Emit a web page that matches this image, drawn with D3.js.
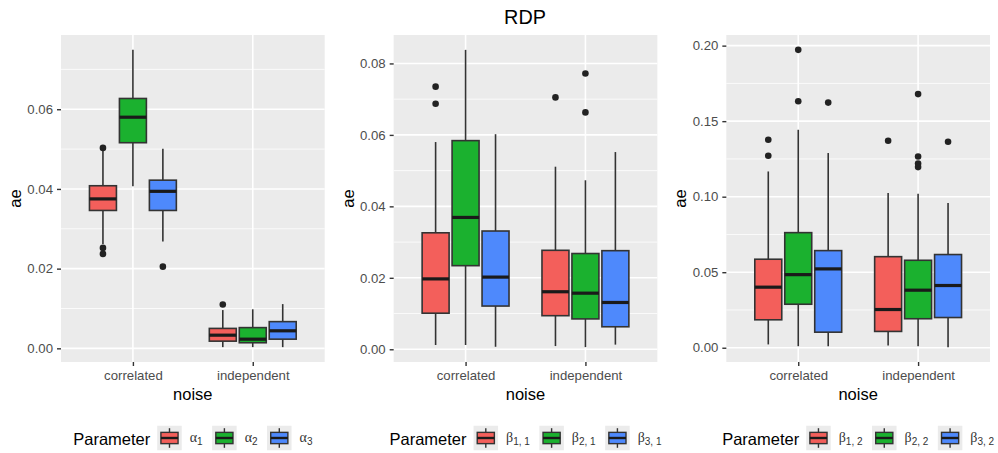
<!DOCTYPE html>
<html><head><meta charset="utf-8">
<script src="https://cdn.jsdelivr.net/npm/d3@7"></script>
<style>
body{margin:0;background:#fff}
text{font-family:"Liberation Sans",Arial,Helvetica,sans-serif}
</style>
</head><body><svg id="c" width="998" height="453"></svg>
<script>
// ---------- data ----------
const noise = ["correlated", "independent"];
const seriesColors = ["#F35F5B", "#1BB12F", "#4E89FC"];
const chartTitle = "RDP";
const xTitle = "noise";
const yTitle = "ae";
const legendTitle = "Parameter";

const alphaLabels = [["α", "1"], ["α", "2"], ["α", "3"]];
const beta1Labels = [["β", "1, 1"], ["β", "2, 1"], ["β", "3, 1"]];
const beta2Labels = [["β", "1, 2"], ["β", "2, 2"], ["β", "3, 2"]];

// [noise index, parameter index, lower whisker, Q1, median, Q3, upper whisker]
const alphaBoxes = [
  [0, 0, 0.0262, 0.0346, 0.0375, 0.0408, 0.0497],
  [0, 1, 0.0407, 0.0516, 0.0580, 0.0627, 0.0749],
  [0, 2, 0.0268, 0.0346, 0.0394, 0.0422, 0.0501],
  [1, 0, 0.0003, 0.0018, 0.0033, 0.0050, 0.0096],
  [1, 1, 0.0003, 0.0014, 0.0023, 0.0052, 0.0098],
  [1, 2, 0.0003, 0.0023, 0.0044, 0.0067, 0.0111]
];
// [noise index, parameter index, value]
const alphaOutliers = [
  [0, 0, 0.0503], [0, 0, 0.0252], [0, 0, 0.0237],
  [0, 2, 0.0205],
  [1, 0, 0.0110]
];
const alphaTicks = [0, 0.02, 0.04, 0.06];

const beta1Boxes = [
  [0, 0, 0.0012, 0.0101, 0.0197, 0.0326, 0.0580],
  [0, 1, 0.0012, 0.0234, 0.0369, 0.0584, 0.0838],
  [0, 2, 0.0007, 0.0121, 0.0202, 0.0331, 0.0602],
  [1, 0, 0.0009, 0.0094, 0.0161, 0.0277, 0.0511],
  [1, 1, 0.0006, 0.0085, 0.0157, 0.0268, 0.0473],
  [1, 2, 0.0013, 0.0063, 0.0131, 0.0276, 0.0552]
];
const beta1Outliers = [
  [0, 0, 0.0735], [0, 0, 0.0687],
  [1, 0, 0.0705],
  [1, 1, 0.0772], [1, 1, 0.0663]
];
const beta1Ticks = [0, 0.02, 0.04, 0.06, 0.08];

const beta2Boxes = [
  [0, 0, 0.0022, 0.0185, 0.0401, 0.0586, 0.1167],
  [0, 1, 0.0010, 0.0288, 0.0484, 0.0762, 0.1443],
  [0, 2, 0.0010, 0.0103, 0.0522, 0.0643, 0.1289],
  [1, 0, 0.0015, 0.0108, 0.0253, 0.0603, 0.1024],
  [1, 1, 0.0010, 0.0192, 0.0381, 0.0579, 0.1020],
  [1, 2, 0.0004, 0.0200, 0.0412, 0.0617, 0.0958]
];
const beta2Outliers = [
  [0, 0, 0.1377], [0, 0, 0.1271],
  [0, 1, 0.1972], [0, 1, 0.1632],
  [0, 2, 0.1623],
  [1, 0, 0.1370],
  [1, 1, 0.1679], [1, 1, 0.1266], [1, 1, 0.1220], [1, 1, 0.1196],
  [1, 2, 0.1364]
];
const beta2Ticks = [0, 0.05, 0.10, 0.15, 0.20];

// ---------- drawing ----------
const W = 998, H = 453;
const svg = d3.select("#c");
const plotW = W / 3;
const panelTop = 35, panelBottom = 362;
const lineCol = "#333333";

svg.append("text").attr("x", 525).attr("y", 24).attr("text-anchor", "middle")
  .attr("font-size", 19.8).attr("fill", "#000").text(chartTitle);

function drawPlot(i, boxes, outliers, ticks, labels) {
  const ox = i * plotW;
  const left = ox + 61, right = ox + plotW - 8;
  const g = svg.append("g");

  const allVals = boxes.flatMap(b => b.slice(2)).concat(outliers.map(o => o[2]));
  const [mn, mx] = d3.extent(allVals);
  const pad = (mx - mn) * 0.05;
  const y = d3.scaleLinear().domain([mn - pad, mx + pad]).range([panelBottom, panelTop]);
  const x = d3.scalePoint().domain(noise).range([left, right]).padding(0.6);
  const step = x.step();

  // panel background
  g.append("rect").attr("x", left).attr("y", panelTop).attr("width", right - left)
    .attr("height", panelBottom - panelTop).attr("fill", "#EBEBEB");

  // minor grid
  const tstep = ticks[1] - ticks[0];
  const dom = y.domain();
  const minor = [];
  for (let k = -1; k < ticks.length; k++) {
    const v = ticks[0] + (k + 0.5) * tstep;
    if (v >= dom[0] && v <= dom[1]) minor.push(v);
  }
  g.selectAll(".minor").data(minor).enter().append("line")
    .attr("x1", left).attr("x2", right).attr("y1", d => y(d)).attr("y2", d => y(d))
    .attr("stroke", "#fff").attr("stroke-width", 0.8);
  g.selectAll(".major").data(ticks).enter().append("line")
    .attr("x1", left).attr("x2", right).attr("y1", d => y(d)).attr("y2", d => y(d))
    .attr("stroke", "#fff").attr("stroke-width", 1.6);
  g.selectAll(".vmajor").data(noise).enter().append("line")
    .attr("x1", d => x(d)).attr("x2", d => x(d)).attr("y1", panelTop).attr("y2", panelBottom)
    .attr("stroke", "#fff").attr("stroke-width", 1.6);

  const cx = (n, p) => x(noise[n]) + (p - 1) * 0.25 * step;
  const bw = 0.225 * step;

  // whiskers
  boxes.forEach(b => {
    const c = cx(b[0], b[1]);
    g.append("line").attr("x1", c).attr("x2", c).attr("y1", y(b[2])).attr("y2", y(b[3]))
      .attr("stroke", lineCol).attr("stroke-width", 1.6);
    g.append("line").attr("x1", c).attr("x2", c).attr("y1", y(b[5])).attr("y2", y(b[6]))
      .attr("stroke", lineCol).attr("stroke-width", 1.6);
  });
  // boxes
  boxes.forEach(b => {
    const c = cx(b[0], b[1]);
    g.append("rect").attr("x", c - bw / 2).attr("y", y(b[5])).attr("width", bw)
      .attr("height", y(b[3]) - y(b[5])).attr("fill", seriesColors[b[1]])
      .attr("stroke", lineCol).attr("stroke-width", 1.6);
    g.append("line").attr("x1", c - bw / 2).attr("x2", c + bw / 2)
      .attr("y1", y(b[4])).attr("y2", y(b[4])).attr("stroke", "#1a1a1a").attr("stroke-width", 3.2);
  });
  // outliers
  g.selectAll(".out").data(outliers).enter().append("circle")
    .attr("cx", d => cx(d[0], d[1])).attr("cy", d => y(d[2])).attr("r", 3.3)
    .attr("fill", "#222");

  // y axis
  const ya = g.append("g").attr("transform", `translate(${left},0)`)
    .call(d3.axisLeft(y).tickValues(ticks).tickFormat(d3.format(".2f")).tickSize(4).tickPadding(4));
  ya.select(".domain").remove();
  ya.selectAll("line").attr("stroke", lineCol).attr("stroke-width", 1.4);
  ya.selectAll("text").attr("fill", "#4D4D4D").attr("font-size", 13.2)
    .attr("font-family", '"Liberation Sans",Arial,sans-serif');

  // x axis
  const xa = g.append("g").attr("transform", `translate(0,${panelBottom})`)
    .call(d3.axisBottom(x).tickSize(4).tickPadding(5));
  xa.select(".domain").remove();
  xa.selectAll("line").attr("stroke", lineCol).attr("stroke-width", 1.4);
  xa.selectAll("text").attr("fill", "#4D4D4D").attr("font-size", 13.2)
    .attr("font-family", '"Liberation Sans",Arial,sans-serif');

  // axis titles
  g.append("text").attr("x", (left + right) / 2).attr("y", 400).attr("text-anchor", "middle")
    .attr("font-size", 16.5).attr("fill", "#000").text(xTitle);
  g.append("text").attr("transform", `translate(${ox + 21},${(panelTop + panelBottom) / 2}) rotate(-90)`)
    .attr("text-anchor", "middle").attr("font-size", 16.5).attr("fill", "#000").text(yTitle);

  // legend
  const lg = g.append("g");
  const ly = 438, ks = 24.5;
  let cur = 0;
  const lt = lg.append("text").attr("x", 0).attr("y", ly + 7).attr("font-size", 16.5)
    .attr("fill", "#000").text(legendTitle);
  cur = lt.node().getComputedTextLength() + 7;
  labels.forEach((lab, k) => {
    const kx = cur, ky = ly - ks / 2;
    lg.append("rect").attr("x", kx).attr("y", ky).attr("width", ks).attr("height", ks).attr("fill", "#EBEBEB");
    const kc = kx + ks / 2;
    lg.append("line").attr("x1", kc).attr("x2", kc).attr("y1", ky + ks * 0.1).attr("y2", ky + ks * 0.9)
      .attr("stroke", lineCol).attr("stroke-width", 1.4);
    lg.append("rect").attr("x", kx + ks * 0.15).attr("y", ky + ks * 0.27).attr("width", ks * 0.7)
      .attr("height", ks * 0.46).attr("fill", seriesColors[k]).attr("stroke", lineCol).attr("stroke-width", 1.4);
    lg.append("line").attr("x1", kx + ks * 0.15).attr("x2", kx + ks * 0.85).attr("y1", ly).attr("y2", ly)
      .attr("stroke", "#1a1a1a").attr("stroke-width", 2.4);
    cur += ks + 8;
    const t = lg.append("text").attr("x", cur).attr("y", ly + 4).attr("fill", "#333");
    t.append("tspan").attr("font-family", '"Liberation Serif","Times New Roman",serif')
      .attr("font-size", 14).text(lab[0]);
    t.append("tspan").attr("font-size", 10).attr("dy", 3).text(lab[1]);
    cur += t.node().getComputedTextLength() + 9.5;
  });
  const totalW = cur - 9.5;
  lg.attr("transform", `translate(${(left + right) / 2 - totalW / 2},0)`);
}

drawPlot(0, alphaBoxes, alphaOutliers, alphaTicks, alphaLabels);
drawPlot(1, beta1Boxes, beta1Outliers, beta1Ticks, beta1Labels);
drawPlot(2, beta2Boxes, beta2Outliers, beta2Ticks, beta2Labels);
</script></body></html>
